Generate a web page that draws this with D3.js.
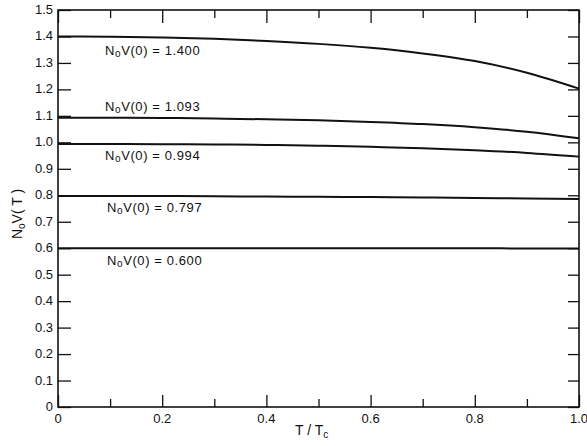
<!DOCTYPE html>
<html><head><meta charset="utf-8">
<script src="https://cdn.jsdelivr.net/npm/d3@7"></script>
<style>body{margin:0;background:#fff}svg{display:block}text{font-family:"Liberation Sans",Arial,sans-serif;fill:#111}</style>
</head><body><svg id="c" width="587" height="446"></svg>
<script>
const tValues = [0, 0.1, 0.2, 0.3, 0.4, 0.5, 0.6, 0.7, 0.8, 0.9, 1.0];
const curve1400 = [1.400, 1.399, 1.396, 1.391, 1.383, 1.372, 1.357, 1.336, 1.307, 1.263, 1.203];
const curve1093 = [1.093, 1.093, 1.092, 1.090, 1.087, 1.083, 1.077, 1.069, 1.057, 1.040, 1.015];
const curve0994 = [0.994, 0.994, 0.993, 0.992, 0.990, 0.987, 0.983, 0.978, 0.970, 0.960, 0.946];
const curve0797 = [0.797, 0.797, 0.797, 0.796, 0.795, 0.794, 0.793, 0.792, 0.790, 0.788, 0.786];
const curve0600 = [0.600, 0.600, 0.600, 0.600, 0.600, 0.600, 0.600, 0.600, 0.600, 0.599, 0.599];
const curveLabels = ["1.400", "1.093", "0.994", "0.797", "0.600"];
const xTickLabels = ["0", "0.2", "0.4", "0.6", "0.8", "1.0"];
const yTickLabels = ["0", "0.1", "0.2", "0.3", "0.4", "0.5", "0.6", "0.7", "0.8", "0.9", "1.0", "1.1", "1.2", "1.3", "1.4", "1.5"];

const svg = d3.select("#c");
const L = 58, R = 579, T = 10, B = 407;
const x = d3.scaleLinear().domain([0, 1]).range([L, R]);
const y = d3.scaleLinear().domain([0, 1.5]).range([B, T]);

const curves = [curve1400, curve1093, curve0994, curve0797, curve0600];
const line = d3.line().x((d, i) => x(tValues[i])).y(d => y(d)).curve(d3.curveMonotoneX);
curves.forEach(c => {
  svg.append("path").attr("d", line(c)).attr("fill", "none").attr("stroke", "#111").attr("stroke-width", 2);
});

// frame
svg.append("rect").attr("x", L).attr("y", T).attr("width", R - L).attr("height", B - T)
  .attr("fill", "none").attr("stroke", "#111").attr("stroke-width", 1.6);

const xt = d3.range(0, 11).map(i => i / 10);
const yt = d3.range(0, 16).map(i => i / 10);
const bottomAxis = d3.axisTop(x).tickValues(xt).tickFormat("").tickSizeOuter(0);
const gB = svg.append("g").attr("transform", `translate(0,${B})`).call(bottomAxis);
gB.selectAll(".tick line").attr("y2", (d, i) => i % 2 === 0 ? -12 : -8);
const gTop = svg.append("g").attr("transform", `translate(0,${T})`).call(d3.axisBottom(x).tickValues(xt).tickFormat("").tickSizeOuter(0));
gTop.selectAll(".tick line").attr("y2", (d, i) => i % 2 === 0 ? 13 : 8);
const gL = svg.append("g").attr("transform", `translate(${L},0)`).call(d3.axisRight(y).tickValues(yt).tickFormat("").tickSize(13).tickSizeOuter(0));
const gR = svg.append("g").attr("transform", `translate(${R},0)`).call(d3.axisLeft(y).tickValues(yt).tickFormat("").tickSize(11).tickSizeOuter(0));
[gB, gTop, gL, gR].forEach(g => {
  g.select(".domain").remove();
  g.selectAll(".tick line").attr("stroke", "#111").attr("stroke-width", 1.3);
});

svg.append("g").selectAll("text").data(xTickLabels).join("text")
  .attr("x", (d, i) => x(i * 0.2)).attr("y", 423).attr("text-anchor", "middle")
  .attr("font-size", 13).text(d => d);
svg.append("g").selectAll("text").data(yTickLabels).join("text")
  .attr("x", 53).attr("y", (d, i) => y(i / 10) + 4).attr("text-anchor", "end")
  .attr("font-size", 13).text(d => d);

const xt2 = svg.append("text").attr("x", 295).attr("y", 435).attr("font-size", 14);
xt2.append("tspan").text("T / T");
xt2.append("tspan").attr("font-size", 10).attr("dy", 3).text("c");

const ytl = svg.append("text").attr("transform", "translate(22,214) rotate(-90)").attr("text-anchor", "middle").attr("font-size", 14);
ytl.append("tspan").text("N");
ytl.append("tspan").attr("font-size", 10).attr("dy", 3).text("o");
ytl.append("tspan").attr("dy", -3).text("V( T )");

const labelPos = [[105, 55], [105, 111], [105, 160], [107, 212], [107, 265]];
curveLabels.forEach((lab, i) => {
  const t = svg.append("text").attr("x", labelPos[i][0]).attr("y", labelPos[i][1])
    .attr("font-size", 13).attr("letter-spacing", 0.6);
  t.append("tspan").text("N");
  t.append("tspan").attr("font-size", 10).attr("dy", 2).text("o");
  t.append("tspan").attr("dy", -2).text("V(0) = " + lab);
});
</script></body></html>
